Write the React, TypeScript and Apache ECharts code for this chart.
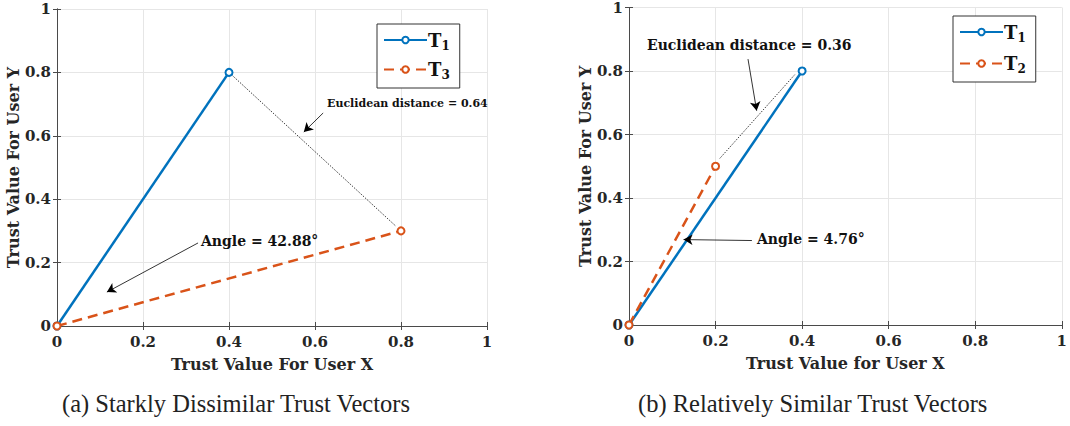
import React, { useEffect, useRef } from "react";
import * as echarts from "echarts";

const ticks = [0, 0.2, 0.4, 0.6, 0.8, 1];
const t1 = [[0, 0], [0.4, 0.8]];
const t3 = [[0, 0], [0.8, 0.3]];
const t2 = [[0, 0], [0.2, 0.5]];
const distA = [[0.4, 0.8], [0.788, 0.315]];
const distB = [[0.21, 0.525], [0.384, 0.79]];
const arrowDistA = [[0.619, 0.672], [0.574, 0.612]];
const arrowAngleA = [[0.328, 0.262], [0.116, 0.107]];
const arrowDistB = [[0.275, 0.8375], [0.295, 0.675]];
const arrowAngleB = [[0.284, 0.266], [0.126, 0.269]];
const xName = ["Trust Value For User X", "Trust Value for User X"];
const yName = "Trust Value For User Y";
const captions = ["(a) Starkly Dissimilar Trust Vectors", "(b) Relatively Similar Trust Vectors"];
const labelsA = ["Euclidean distance = 0.64", "Angle = 42.88°"];
const labelsB = ["Euclidean distance = 0.36", "Angle = 4.76°"];

const BLUE = "#0072BD";
const ORANGE = "#D95319";
const AX = "#4a4a4a";
const SERIF = "'DejaVu Serif', serif";

export default function App() {
  const ref = useRef<HTMLDivElement>(null);
  useEffect(() => {
    const chart = echarts.init(ref.current!, null, { renderer: "svg" });
    const grids = [
      { left: 57, top: 9, width: 430, height: 317 },
      { left: 629, top: 5, width: 437, height: 320 },
    ];
    const mkX = (g: number, pos: "bottom" | "top", name?: string) => ({
      type: "value",
      gridIndex: g,
      position: pos,
      min: 0,
      max: 1,
      interval: 0.2,
      name: name,
      nameLocation: "middle",
      nameGap: 30,
      nameTextStyle: { fontFamily: SERIF, fontWeight: "bold", fontSize: 16, color: "#262626" },
      axisLine: { show: true, lineStyle: { color: AX, width: 1 } },
      axisTick: { show: true, inside: true, length: 4, lineStyle: { color: AX } },
      axisLabel: {
        show: pos === "bottom",
        fontFamily: SERIF,
        fontWeight: "bold",
        fontSize: 15,
        color: "#262626",
        margin: 8,
      },
      splitLine: { show: pos === "bottom", lineStyle: { color: "#e6e6e6", width: 1 } },
    });
    const mkY = (g: number, pos: "left" | "right", name?: string) => ({
      type: "value",
      gridIndex: g,
      position: pos,
      min: 0,
      max: 1,
      interval: 0.2,
      name: name,
      nameLocation: "middle",
      nameGap: 31,
      nameTextStyle: { fontFamily: SERIF, fontWeight: "bold", fontSize: 16, color: "#262626" },
      axisLine: { show: true, lineStyle: { color: AX, width: 1 } },
      axisTick: { show: true, inside: true, length: 4, lineStyle: { color: AX } },
      axisLabel: {
        show: pos === "left",
        fontFamily: SERIF,
        fontWeight: "bold",
        fontSize: 15,
        color: "#262626",
        margin: 6,
      },
      splitLine: { show: pos === "left", lineStyle: { color: "#e6e6e6", width: 1 } },
    });
    const arrows = (a: number[][], b: number[][]) => ({
      silent: true,
      symbol: ["none", "arrow"],
      symbolSize: [8, 9],
      label: { show: false },
      itemStyle: { color: "#000" },
      lineStyle: { color: "#000", width: 0.8, type: "solid" },
      data: [
        [{ coord: a[0] }, { coord: a[1] }],
        [{ coord: b[0] }, { coord: b[1] }],
      ],
    });
    const vec = (name: string, data: number[][], color: string, dashed: boolean, xi: number, yi: number) => ({
      type: "line",
      name,
      data,
      xAxisIndex: xi,
      yAxisIndex: yi,
      symbol: "emptyCircle",
      symbolSize: 7,
      showSymbol: true,
      lineStyle: { color, width: 2.5, type: dashed ? [10, 6] : "solid" },
      itemStyle: { color, borderWidth: 1.6 },
      z: dashed ? 4 : 3,
    });
    const dotted = (data: number[][], xi: number, yi: number, a: number[][], b: number[][]) => ({
      type: "line",
      name: "dist" + xi,
      data,
      xAxisIndex: xi,
      yAxisIndex: yi,
      symbol: "none",
      lineStyle: { color: "#000", width: 1, type: [1, 1.5] },
      z: 2,
      markLine: arrows(a, b),
    });
    const legendRich = {
      t: { fontFamily: SERIF, fontWeight: "bold", fontSize: 18, color: "#111" },
      s: { fontFamily: SERIF, fontWeight: "bold", fontSize: 12, color: "#111", padding: [11, 0, 0, 0] },
    };
    const legendFmt = (n: string) => {
      const m = n.match(/T(\d)/);
      return "{t|T}{s|" + (m ? m[1] : "") + "}";
    };
    const mkLegend = (data: string[], left: number, top: number, gap: number) => ({
      data,
      orient: "vertical",
      left,
      top,
      itemWidth: 43,
      itemHeight: 8,
      itemGap: gap,
      padding: [7, 10, 7, 6],
      borderColor: "#333",
      borderWidth: 1,
      backgroundColor: "#fff",
      borderRadius: 0,
      formatter: legendFmt,
      textStyle: { rich: legendRich, padding: [0, 0, 0, -4] },
      selectedMode: false,
    });
    chart.setOption({
      animation: false,
      grid: grids.map((g) => ({ ...g, show: false, containLabel: false })),
      xAxis: [mkX(0, "bottom", xName[0]), mkX(0, "top"), mkX(1, "bottom", xName[1]), mkX(1, "top")],
      yAxis: [mkY(0, "left", yName), mkY(0, "right"), mkY(1, "left", yName), mkY(1, "right")],
      legend: [mkLegend(["T1a", "T3"], 377, 24, 9), mkLegend(["T1b", "T2"], 953, 16, 11)],
      series: [
        dotted(distA, 0, 0, arrowDistA, arrowAngleA),
        vec("T1a", t1, BLUE, false, 0, 0),
        vec("T3", t3, ORANGE, true, 0, 0),
        dotted(distB, 2, 2, arrowDistB, arrowAngleB),
        vec("T1b", t1, BLUE, false, 2, 2),
        vec("T2", t2, ORANGE, true, 2, 2),
      ],
      graphic: [
        { type: "text", left: 327, top: 98, style: { text: labelsA[0], font: `bold 11px ${SERIF}`, fill: "#111" }, z: 100 },
        { type: "text", left: 201, top: 234, style: { text: labelsA[1], font: `bold 14px ${SERIF}`, fill: "#111" }, z: 100 },
        { type: "text", left: 647, top: 38, style: { text: labelsB[0], font: `bold 14px ${SERIF}`, fill: "#111" }, z: 100 },
        { type: "text", left: 757, top: 232, style: { text: labelsB[1], font: `bold 14px ${SERIF}`, fill: "#111" }, z: 100 },
        { type: "text", left: 62, top: 391, style: { text: captions[0], font: `24.5px 'Liberation Serif', serif`, fill: "#222" } },
        { type: "text", left: 638, top: 391, style: { text: captions[1], font: `24.5px 'Liberation Serif', serif`, fill: "#222" } },
      ],
    });
    return () => chart.dispose();
  }, []);
  return (
    <div
      ref={ref}
      style={{ position: "absolute", left: 0, top: 0, width: 1070, height: 426, background: "#fff" }}
    />
  );
}
